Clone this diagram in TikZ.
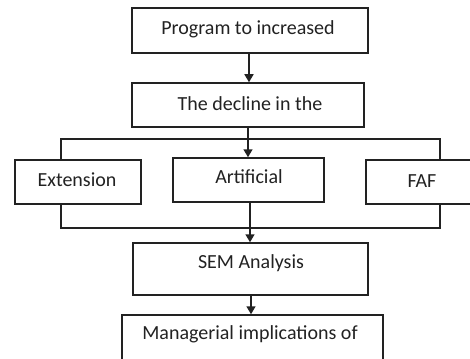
\documentclass[tikz,border=0pt]{standalone}
\usepackage{fontspec}
\setmainfont{Carlito}
\usetikzlibrary{arrows.meta,calc}
\definecolor{ink}{HTML}{222222}
\tikzset{
  boxnode/.style={draw=ink, line width=1.5pt, rectangle, inner sep=0pt},
  label text/.style={text=ink, font=\fontsize{20}{24}\selectfont, inner sep=0pt, anchor=center},
  link/.style={draw=ink, line width=1.5pt},
  arrowlink/.style={link, -{Triangle[width=9pt,length=8pt]}}
}
\begin{document}
\begin{tikzpicture}[x=1pt,y=-1pt]
\useasboundingbox (0,0) rectangle (470,358);
\clip (0,0) rectangle (470,358);
\fill[white] (0,0) rectangle (470,358);
% boxes
\node[boxnode, minimum width=236pt, minimum height=45pt] (b1) at (250,30.5) {};
\node[boxnode, minimum width=232pt, minimum height=44pt] (b2) at (248,105) {};
\node[boxnode, minimum width=126pt, minimum height=44pt] (ext) at (78,182) {};
\node[boxnode, minimum width=151pt, minimum height=44pt] (art) at (248.5,180) {};
\node[boxnode, minimum width=129pt, minimum height=44pt] (faf) at (430.5,182) {};
\node[boxnode, minimum width=235pt, minimum height=52pt] (sem) at (250.5,269) {};
\node[boxnode, minimum width=261pt, minimum height=60pt] (man) at (252.5,345) {};
% texts
\node[label text] (t1) at (248,29) {Program to increased};
\node[label text] (t2) at (250,104) {The decline in the};
\node[label text] (t3) at (77,180) {Extension};
\node[label text] (t4) at (249,177) {Artificial};
\node[label text] (t5) at (422,181) {FAF};
\node[label text] (t6) at (251,263) {SEM Analysis};
\node[label text] (t7) at (250,334) {Managerial implications of};
% connector coordinates
\coordinate (tl) at (61,139);
\coordinate (tr) at (440,139);
\coordinate (bl) at (61,228);
\coordinate (br) at (440,228);
% connectors
\draw[arrowlink] (b1.south -| 249,0) -- (b2.north -| 249,0);
\draw[arrowlink] (b2.south) -- (art.north -| b2.south);
\draw[link] (ext.north -| tl) -- (tl) -- (tr) -- (faf.north -| tr);
\draw[link] (ext.south -| bl) -- (bl) -- (br) -- (faf.south -| br);
\draw[arrowlink] (art.south -| 250,0) -- (sem.north -| 250,0);
\draw[arrowlink] (sem.south -| 251,0) -- (man.north -| 251,0);
\end{tikzpicture}
\end{document}
